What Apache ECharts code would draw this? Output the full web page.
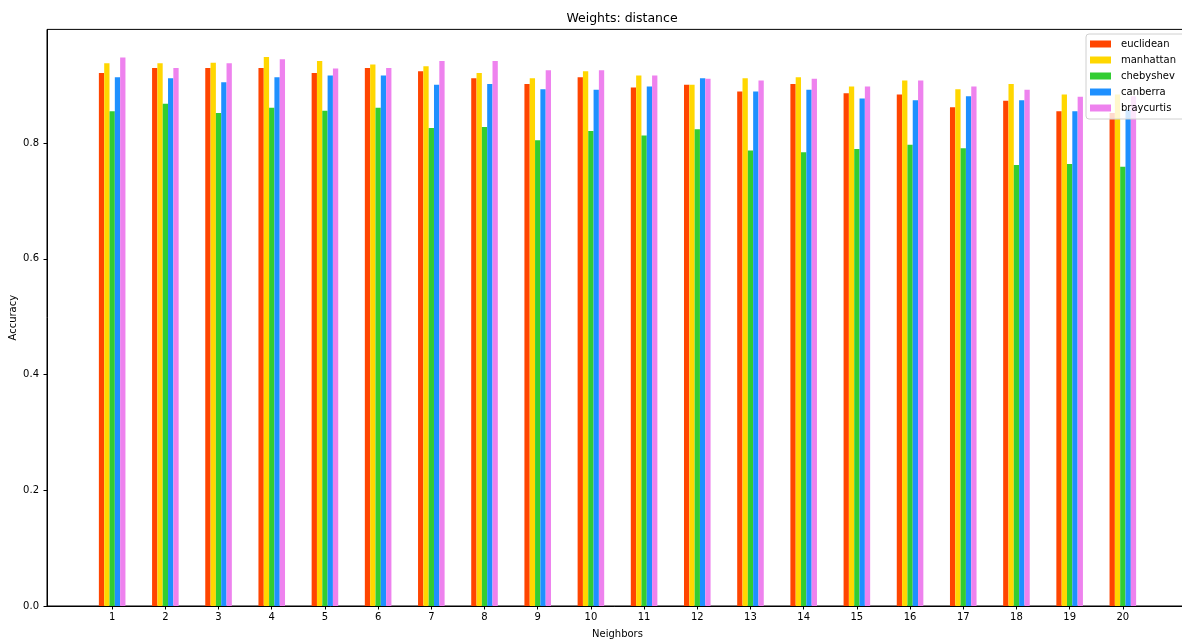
<!DOCTYPE html>
<html>
<head>
<meta charset="utf-8">
<script src="https://cdn.jsdelivr.net/npm/echarts@6/dist/echarts.min.js"></script>
<style>
html,body{margin:0;padding:0;background:#fff;}
#chart{width:1182px;height:640px;}
</style>
</head>
<body>
<div id="chart"></div>
<script>
const neighbors = [1,2,3,4,5,6,7,8,9,10,11,12,13,14,15,16,17,18,19,20];
const euclidean  = [0.921,0.930,0.930,0.930,0.921,0.930,0.924,0.912,0.902,0.914,0.896,0.901,0.889,0.902,0.886,0.884,0.862,0.873,0.855,0.852];
const manhattan  = [0.938,0.938,0.939,0.949,0.942,0.936,0.933,0.921,0.912,0.924,0.917,0.901,0.912,0.914,0.898,0.908,0.893,0.902,0.884,0.884];
const chebyshev  = [0.855,0.868,0.852,0.861,0.856,0.861,0.826,0.828,0.805,0.821,0.813,0.824,0.787,0.784,0.790,0.797,0.791,0.762,0.764,0.759];
const canberra   = [0.914,0.912,0.905,0.914,0.917,0.917,0.901,0.902,0.893,0.892,0.898,0.912,0.889,0.892,0.877,0.874,0.881,0.874,0.855,0.857];
const braycurtis = [0.948,0.930,0.938,0.945,0.929,0.930,0.942,0.942,0.926,0.926,0.917,0.911,0.908,0.911,0.898,0.908,0.898,0.892,0.880,0.881];
const yTicks = [0, 0.2, 0.4, 0.6, 0.8];

const seriesNames = ['euclidean','manhattan','chebyshev','canberra','braycurtis'];
const seriesValues = [euclidean, manhattan, chebyshev, canberra, braycurtis];
const colors = ['#FF4500','#FFD700','#32CD32','#1E90FF','#EE82EE'];
const barW = 0.1; // in x-axis units, as in the grouped bar layout

const chart = echarts.init(document.getElementById('chart'), null, {renderer:'canvas'});
const font = 'DejaVu Sans';

const series = seriesNames.map((name, i) => ({
  name: name,
  type: 'bar',
  barWidth: 5.3,
  barGap: '-100%',
  itemStyle: { color: colors[i] },
  emphasis: { disabled: true },
  data: seriesValues[i].map((v, k) => [neighbors[k] + (i - 2) * barW, v])
}));

chart.setOption({
  animation: false,
  backgroundColor: '#fff',
  textStyle: { fontFamily: font },
  title: {
    text: 'Weights: distance',
    left: 617, top: 7,
    textAlign: 'center',
    textStyle: { fontFamily: font, fontSize: 12.5, fontWeight: 'normal', color: '#000' }
  },
  legend: {
    data: seriesNames,
    left: 1086, top: 34,
    orient: 'vertical',
    icon: 'rect',
    itemWidth: 21, itemHeight: 7,
    itemGap: 4,
    padding: [4, 10, 5, 4],
    backgroundColor: 'rgba(255,255,255,0.8)',
    borderColor: '#d0d0d0', borderWidth: 1, borderRadius: 3,
    z: 10,
    textStyle: { fontFamily: font, fontSize: 10, color: '#000', lineHeight: 12, padding: [0,0,0,5] }
  },
  grid: {
    left: 47, top: 29.4, right: -6, bottom: 34,
    outerBoundsMode: 'none',
    containLabel: false,
    show: true, borderColor: '#000', borderWidth: 1, backgroundColor: 'transparent'
  },
  xAxis: {
    type: 'value',
    min: -0.225, max: 21.225,
    name: 'Neighbors',
    nameLocation: 'middle',
    nameGap: 23,
    nameTextStyle: { fontFamily: font, fontSize: 10, color: '#000' },
    axisLine: { show: true, onZero: false, lineStyle: { color: '#000', width: 1 } },
    axisTick: { show: true, length: 3.5, lineStyle: { color: '#000' }, customValues: neighbors },
    axisLabel: { fontFamily: font, fontSize: 10, color: '#000', margin: 6.5, customValues: neighbors, formatter: v => String(v) },
    splitLine: { show: false }
  },
  yAxis: {
    type: 'value',
    min: 0, max: 0.9965,
    name: 'Accuracy',
    nameLocation: 'middle',
    nameGap: 29,
    nameMoveOverlap: false,
    nameTextStyle: { fontFamily: font, fontSize: 10, color: '#000' },
    axisLine: { show: true, onZero: false, lineStyle: { color: '#000', width: 1 } },
    axisTick: { show: true, length: 3.5, lineStyle: { color: '#000' }, customValues: yTicks },
    axisLabel: { fontFamily: font, fontSize: 10, color: '#000', margin: 8, customValues: yTicks, formatter: v => v.toFixed(1) },
    splitLine: { show: false }
  },
  series: series
});
</script>
</body>
</html>
